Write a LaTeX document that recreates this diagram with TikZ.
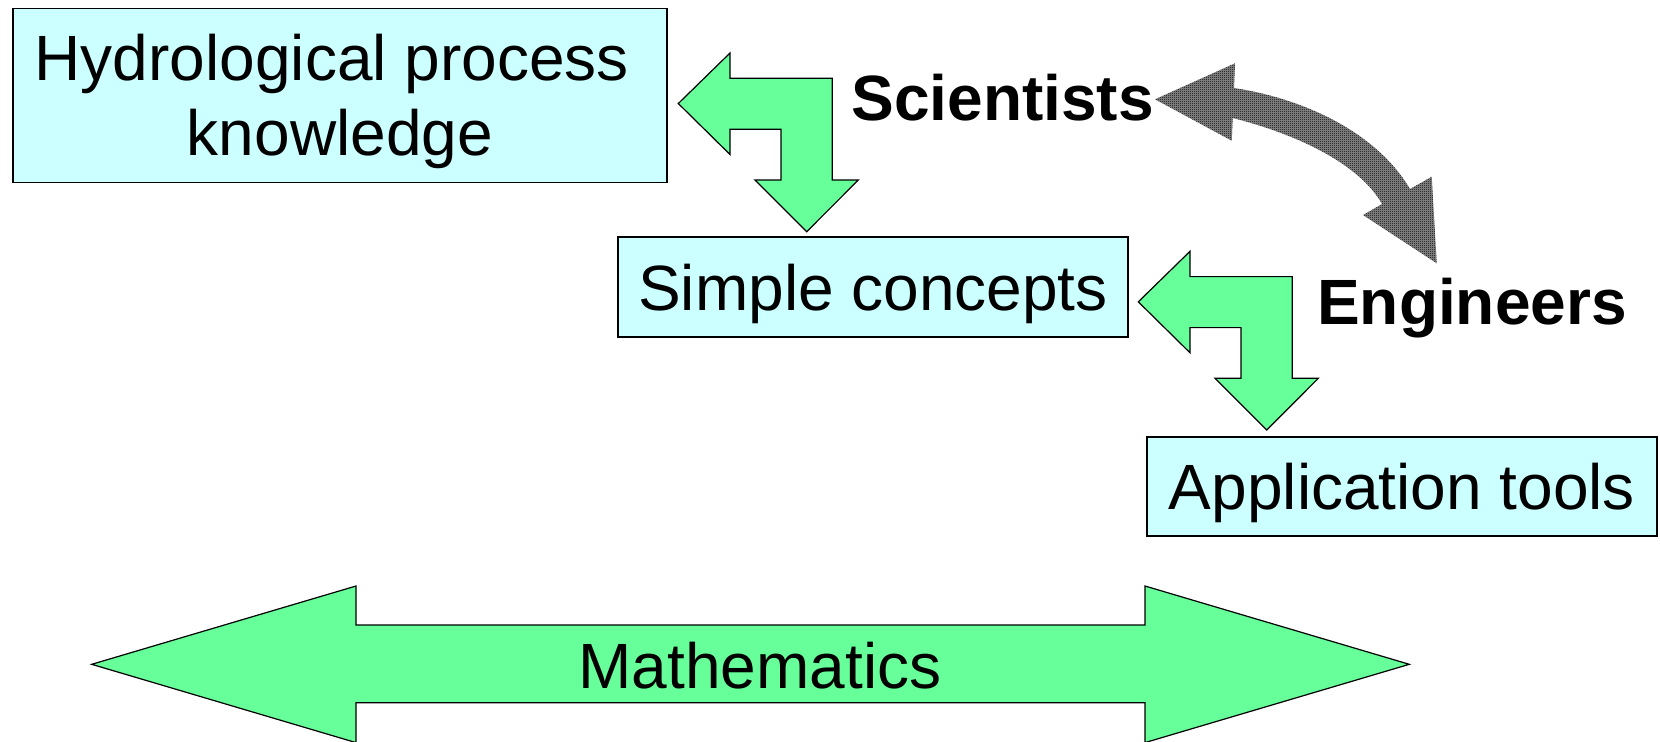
\documentclass[tikz,border=0pt]{standalone}
\usepackage{fontspec}
\setmainfont{Liberation Sans}
\usetikzlibrary{patterns}
\pgfdeclarepatternformonly{finecheck}{\pgfpointorigin}{\pgfqpoint{1pt}{1pt}}{\pgfqpoint{1pt}{1pt}}{%
  \pgfpathrectangle{\pgfpointorigin}{\pgfqpoint{0.5pt}{0.5pt}}%
  \pgfpathrectangle{\pgfqpoint{0.5pt}{0.5pt}}{\pgfqpoint{0.5pt}{0.5pt}}%
  \pgfusepath{fill}}
\definecolor{boxcyan}{HTML}{CCFFFF}
\definecolor{arrgreen}{HTML}{66FF99}
\begin{document}
\begin{tikzpicture}[x=0.5pt,y=-0.5pt,
  box/.style={draw=black, line width=0.7pt, fill=boxcyan, inner sep=0pt,
    font=\fontsize{32}{37.5}\selectfont, align=center},
  lbl/.style={font=\fontsize{32}{38.4}\selectfont\bfseries, inner sep=0pt, anchor=base},
  mathlbl/.style={font=\fontsize{32}{38.4}\selectfont, inner sep=0pt, anchor=base},
  greenarrow/.style={draw=black, line width=0.6pt, fill=arrgreen, line join=miter},
  grayback/.style={fill=black!45},
  grayarrow/.style={pattern=finecheck, pattern color=black}]
\useasboundingbox (0,0) rectangle (1660,741);

% boxes
\node[box, minimum width=327pt, minimum height=87pt, text height=60.9pt, text depth=1.4pt]
  (hyd) at (340,95.5) {Hydrological process\hspace*{8.2pt}\\knowledge};
\node[box, minimum width=255pt, minimum height=50pt, text height=23.4pt, text depth=0pt]
  (simple) at (873,287) {Simple concepts};
\node[box, minimum width=255pt, minimum height=49.5pt, text height=23.4pt, text depth=0pt]
  (app) at (1402,486.5) {Application tools};

% bent arrows
\draw[greenarrow] (678.3,103.5) -- (730,53) -- (730,78.3) -- (832.3,78.3)
  -- (832.3,180) -- (858.3,180) -- (806.7,231.7) -- (755,180) -- (781,180)
  -- (781,129.3) -- (730,129.3) -- (730,154.5) -- cycle;
\begin{scope}[shift={(460,198.3)}]
\draw[greenarrow] (678.3,103.5) -- (730,53) -- (730,78.3) -- (832.3,78.3)
  -- (832.3,180) -- (858.3,180) -- (806.7,231.7) -- (755,180) -- (781,180)
  -- (781,129.3) -- (730,129.3) -- (730,154.5) -- cycle;
\end{scope}

% labels
\node[lbl] (sci) at (1002.6,120.3) {Scientists};
\node[lbl] (eng) at (1472,324.6) {Engineers};

% curved gray double arrow
\foreach \sty in {grayback,grayarrow}{
\fill[\sty] (1155,99.3) -- (1235,63.3) -- (1234,88)
  .. controls (1300,98) and (1375,130) .. (1410,189)
  -- (1431.7,176.7) -- (1436.7,263.3) -- (1363,215) -- (1382,204)
  .. controls (1360,165) and (1300,135) .. (1232.7,118)
  -- (1231.7,140.7) -- cycle;
}

% big double arrow
\draw[greenarrow] (91.7,664.3) -- (356,586) -- (356,625) -- (1145,625)
  -- (1145,586) -- (1409.3,664.3) -- (1145,742.6) -- (1145,702.7)
  -- (356,702.7) -- (356,742.6) -- cycle;
\node[mathlbl] (math) at (760,688) {Mathematics};
\end{tikzpicture}
\end{document}
